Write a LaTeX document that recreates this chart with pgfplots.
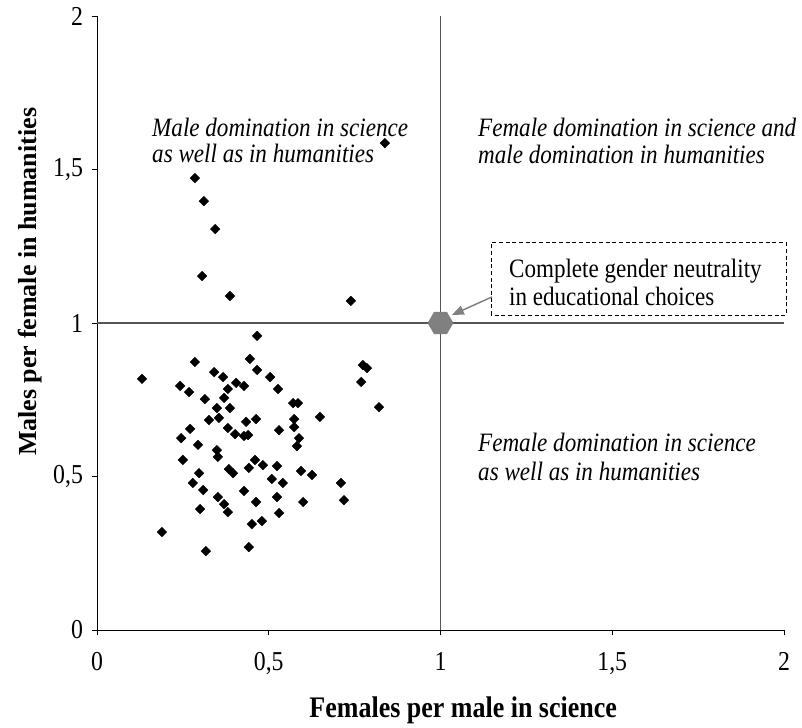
\documentclass[border=0pt]{standalone}
\usepackage{fontspec}
\setmainfont{Liberation Serif}[FakeStretch=0.87]
\newfontfamily\yfont{Liberation Serif}
\usepackage{pgfplots}
\pgfplotsset{compat=1.18}
\usetikzlibrary{arrows.meta}
\pgfdeclareplotmark{hexagon}{%
 \pgfpathmoveto{\pgfpoint{\pgfplotmarksize}{0pt}}%
 \pgfpathlineto{\pgfpoint{0.5\pgfplotmarksize}{0.866\pgfplotmarksize}}%
 \pgfpathlineto{\pgfpoint{-0.5\pgfplotmarksize}{0.866\pgfplotmarksize}}%
 \pgfpathlineto{\pgfpoint{-\pgfplotmarksize}{0pt}}%
 \pgfpathlineto{\pgfpoint{-0.5\pgfplotmarksize}{-0.866\pgfplotmarksize}}%
 \pgfpathlineto{\pgfpoint{0.5\pgfplotmarksize}{-0.866\pgfplotmarksize}}%
 \pgfpathclose
 \pgfusepathqfillstroke}
\definecolor{lgray}{RGB}{85,85,85}
\definecolor{hexgray}{RGB}{128,128,128}
\begin{document}
\begin{tikzpicture}
\begin{axis}[
 scale only axis, width=515.25pt, height=460.5pt,
 xmin=0,xmax=2,ymin=0,ymax=2,
 axis lines=left, axis line style={-, black, line width=0.75pt},
 tick align=outside, major tick length=4pt, tick style={black, line width=0.75pt},
 xtick={0,0.5,1,1.5,2}, xticklabels={0,{0,5},1,{1,5},2},
 ytick={0,0.5,1,1.5,2}, yticklabels={0,{0,5},1,{1,5},2},
 ticklabel style={font=\fontsize{20.5}{22}\selectfont},
 xticklabel style={yshift=-9pt},
 yticklabel style={xshift=-3pt},
 xlabel={Females per male in science},
 ylabel={Males per female in humanities},
 xlabel style={font=\bfseries\fontsize{22.4}{24}\selectfont, at={(axis description cs:0.533,-0.130)}, anchor=center},
 ylabel style={font=\yfont\bfseries\fontsize{19.5}{22}\selectfont, at={(axis description cs:-0.0975,0.567)}, anchor=center},
 clip=false,
]
\path (axis description cs:-0.1412,-0.1563) rectangle (axis description cs:1.0262,1.0261);
\addplot[lgray, line width=1.1pt, forget plot] coordinates {(1,0) (1,2)};
\addplot[lgray, line width=1.1pt, forget plot] coordinates {(0,1) (2,1)};
\addplot[only marks, mark=square*, mark size=2.5pt, mark options={rotate=45, fill=black, draw=black}] coordinates {
(0.838,1.586) (0.285,1.472) (0.311,1.397) (0.344,1.306) (0.306,1.153) (0.387,1.088) (0.739,1.072)
(0.466,0.958) (0.285,0.873) (0.445,0.883) (0.466,0.847) (0.131,0.818) (0.341,0.840) (0.367,0.824)
(0.405,0.805) (0.428,0.795) (0.242,0.795) (0.268,0.775) (0.381,0.785) (0.370,0.756) (0.314,0.752)
(0.349,0.723) (0.387,0.723) (0.326,0.684) (0.355,0.691) (0.434,0.678) (0.463,0.687) (0.381,0.658)
(0.402,0.638) (0.428,0.632) (0.440,0.635) (0.271,0.655) (0.245,0.625) (0.294,0.603) (0.349,0.586)
(0.352,0.564) (0.250,0.554) (0.384,0.524) (0.396,0.511) (0.442,0.528) (0.460,0.554) (0.483,0.537)
(0.297,0.511) (0.504,0.824) (0.774,0.863) (0.786,0.853) (0.769,0.808) (0.821,0.726) (0.527,0.785)
(0.571,0.739) (0.585,0.739) (0.574,0.687) (0.649,0.694) (0.530,0.651) (0.574,0.661) (0.588,0.625)
(0.582,0.599) (0.524,0.534) (0.594,0.518) (0.626,0.505) (0.509,0.492) (0.710,0.479) (0.541,0.479)
(0.279,0.479) (0.309,0.456) (0.352,0.433) (0.370,0.410) (0.381,0.384) (0.428,0.453) (0.463,0.417)
(0.300,0.394) (0.451,0.345) (0.480,0.355) (0.189,0.319) (0.317,0.257) (0.442,0.270) (0.524,0.433)
(0.600,0.417) (0.719,0.423) (0.530,0.381)
};
\addplot[only marks, mark=hexagon, mark size=9.4pt, mark options={fill=hexgray, draw=hexgray}] coordinates {(1,1)};
\draw[black, line width=0.6pt, dash pattern=on 3pt off 2pt] (axis cs:1.147,1.026) rectangle (axis cs:2.006,1.261);
\node[anchor=west, align=left, inner sep=0pt, font=\fontsize{19.9}{21.5}\selectfont] at (axis cs:1.199,1.132) {Complete gender neutrality\\in educational choices};
\draw[hexgray, line width=1.1pt, -{Triangle[length=9pt,width=7pt]}] (axis cs:1.150,1.085) -- (axis cs:1.033,1.026);
\node[anchor=west, align=left, inner sep=0pt, font=\itshape\fontsize{19.9}{19.5}\selectfont] at (axis cs:0.160,1.594) {Male domination in science\\as well as in humanities};
\node[anchor=west, align=left, inner sep=0pt, font=\itshape\fontsize{19.9}{20}\selectfont] at (axis cs:1.109,1.593) {Female domination in science and\\male domination in humanities};
\node[anchor=west, align=left, inner sep=0pt, font=\itshape\fontsize{19.9}{21.5}\selectfont] at (axis cs:1.109,0.563) {Female domination in science\\as well as in humanities};
\end{axis}
\end{tikzpicture}
\end{document}
